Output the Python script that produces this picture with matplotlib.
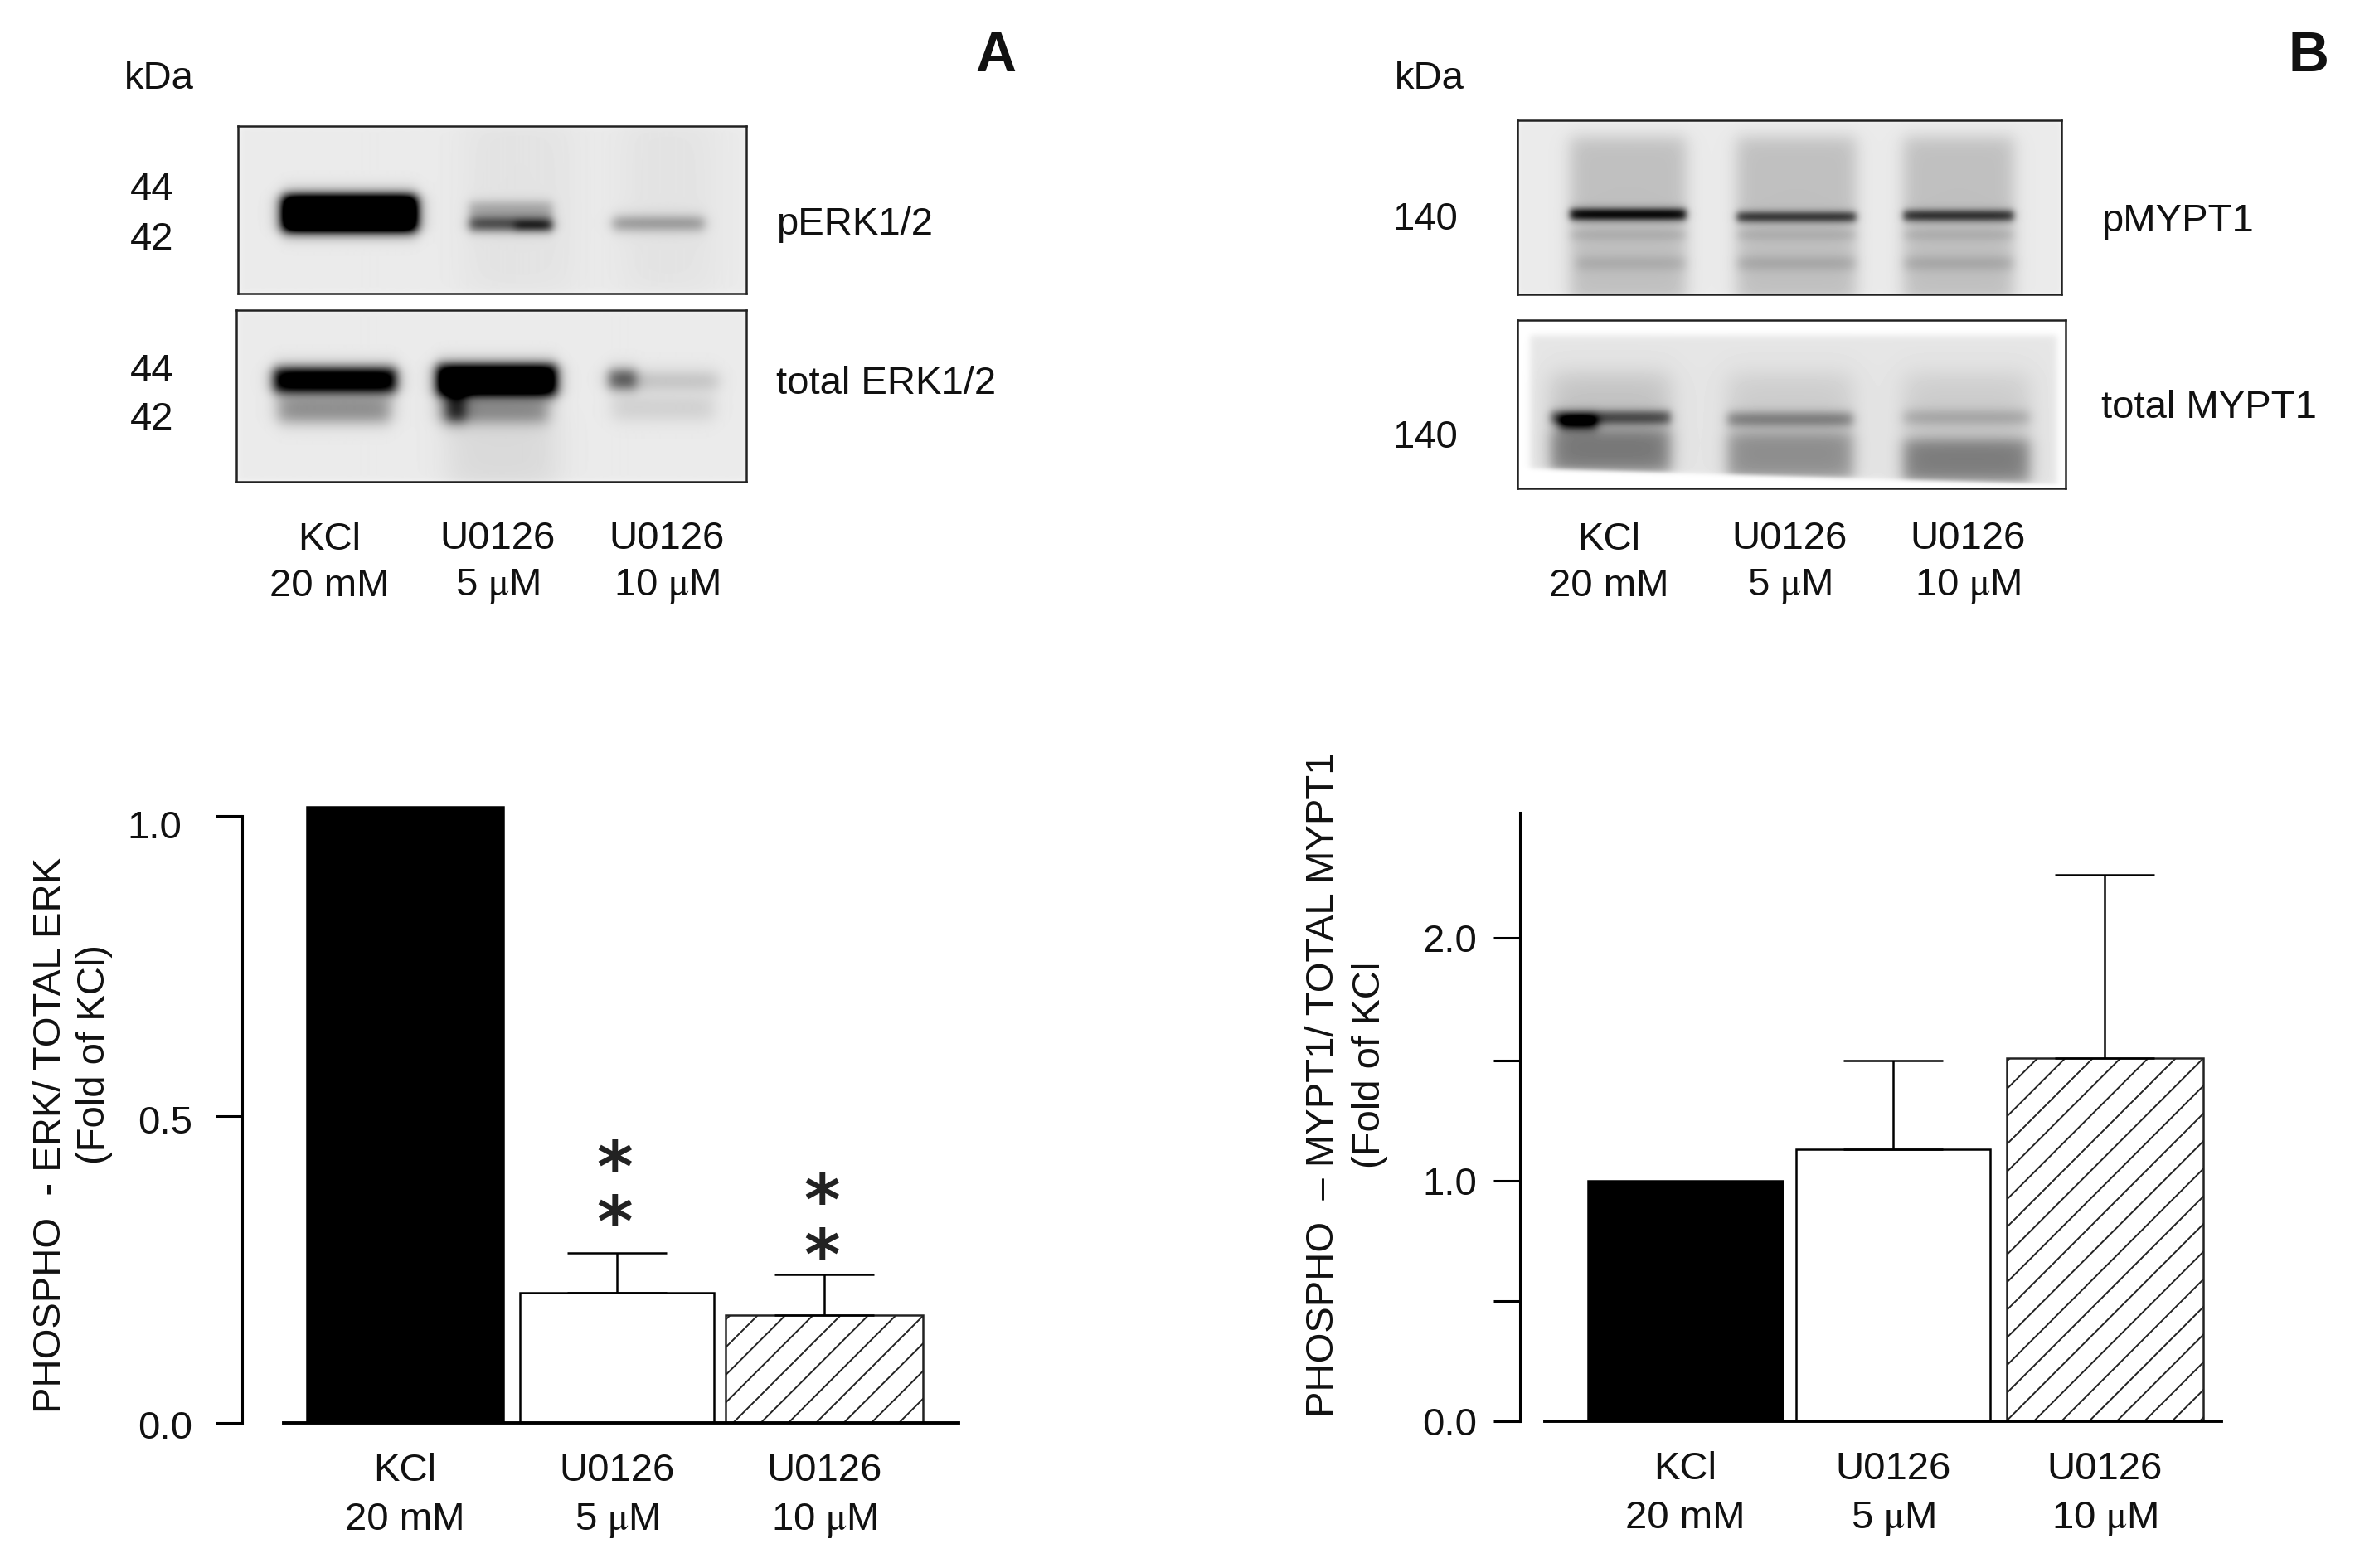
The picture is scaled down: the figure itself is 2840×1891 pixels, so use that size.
import matplotlib
matplotlib.use("Agg")
import matplotlib.pyplot as plt
from matplotlib.transforms import ScaledTranslation
import numpy as np

plt.rcParams['font.family'] = ['Liberation Sans', 'DejaVu Sans']
plt.rcParams['mathtext.fontset'] = 'stix'
plt.rcParams['mathtext.default'] = 'regular'
plt.rcParams['hatch.linewidth'] = 0.7

W, H = 2840, 1891
DPI = 200

conditions = ["KCl\n20 mM", "U0126\n5 $\\mathrm{\\mu}$M", "U0126\n10 $\\mathrm{\\mu}$M"]

# bar values
erk_values = [1.015, 0.215, 0.178]
erk_errors = [0.0, 0.065, 0.067]
mypt_values = [1.0, 1.13, 1.51]
mypt_errors = [0.0, 0.37, 0.76]

erk_ticks = [0.0, 0.505, 1.0]
erk_ticklabels = ["0.0", "0.5", "1.0"]
mypt_ticks = [0.0, 0.5, 1.0, 1.5, 2.01]
mypt_ticklabels = ["0.0", "", "1.0", "", "2.0"]

# blot patches: x0, x1, y0, y1, darkness, edge softness (reference pixels)
perk_bands = [
    (287, 900, 152, 354, 0.08, 4),
    (560, 690, 140, 354, 0.03, 25),
    (750, 860, 140, 354, 0.03, 25),
    (340, 502, 236, 278, 1.7, 9),
    (565, 665, 264, 277, 0.7, 7),
    (620, 665, 268, 276, 0.35, 6),
    (565, 665, 243, 266, 0.25, 7),
    (738, 848, 262, 276, 0.38, 8),
]
terk_bands = [
    (285, 900, 374, 581, 0.08, 4),
    (540, 670, 500, 590, 0.07, 22),
    (330, 477, 444, 472, 1.2, 9),
    (335, 470, 480, 508, 0.4, 11),
    (526, 670, 440, 476, 1.4, 9),
    (530, 660, 482, 508, 0.4, 11),
    (538, 560, 470, 508, 0.5, 9),
    (733, 765, 446, 468, 0.65, 9),
    (760, 865, 450, 468, 0.2, 11),
    (738, 860, 480, 505, 0.12, 12),
]
pmypt_bands = [
    (1830, 2486, 145, 355, 0.08, 3),
    (1893, 2033, 165, 365, 0.17, 12),
    (2094, 2238, 165, 365, 0.17, 12),
    (2295, 2428, 165, 365, 0.17, 12),
    (1893, 2033, 252, 264, 0.85, 5),
    (2094, 2238, 256, 266, 0.68, 5),
    (2295, 2428, 254, 265, 0.68, 5),
    (1893, 2033, 278, 288, 0.1, 6),
    (2094, 2238, 278, 288, 0.1, 6),
    (2295, 2428, 278, 288, 0.1, 6),
    (1900, 2033, 310, 324, 0.1, 7),
    (2094, 2238, 310, 324, 0.12, 7),
    (2295, 2428, 310, 324, 0.12, 7),
]
tmypt_bands = [
    (1845, 2480, 404, 600, 0.1, 5),
    (1870, 2014, 450, 570, 0.14, 18),
    (2083, 2234, 450, 578, 0.1, 18),
    (2295, 2447, 450, 582, 0.1, 18),
    (1870, 2014, 496, 510, 0.55, 6),
    (1880, 1925, 502, 516, 0.75, 7),
    (2083, 2234, 498, 512, 0.38, 7),
    (2295, 2447, 496, 510, 0.2, 8),
    (1870, 2014, 518, 570, 0.3, 10),
    (2083, 2234, 522, 578, 0.25, 10),
    (2295, 2447, 530, 582, 0.32, 10),
]


def axes_px(x0, y0, x1, y1):
    return fig.add_axes([x0 / W, 1 - y1 / H, (x1 - x0) / W, (y1 - y0) / H])


def text_px(x, y, s, size=17, ha='center', **kw):
    fig.text(x / W, 1 - y / H, s, fontsize=size, ha=ha, va='center', color='#111111', **kw)


def draw_blot(box, bands, slant=None):
    x0, x1, y0, y1 = box
    xx, yy = np.meshgrid(np.arange(x0, x1), np.arange(y0, y1))
    dens = np.zeros(xx.shape)
    for bx0, bx1, by0, by1, d, soft in bands:
        mx = 0.5 * (np.tanh((xx - bx0) / soft) - np.tanh((xx - bx1) / soft))
        my = 0.5 * (np.tanh((yy - by0) / soft) - np.tanh((yy - by1) / soft))
        dens += d * mx * my
    if slant is not None:
        line = slant[0] + (slant[1] - slant[0]) * (xx - x0) / (x1 - x0)
        dens *= 0.5 * (1 - np.tanh((yy - line) / 3))
    ax = axes_px(x0, y0, x1, y1)
    ax.imshow(1 - np.clip(dens, 0, 1), cmap='gray', vmin=0, vmax=1, aspect='auto',
              interpolation='bilinear')
    ax.set_xticks([])
    ax.set_yticks([])
    for sp in ax.spines.values():
        sp.set_linewidth(0.9)
        sp.set_color('#222222')


def draw_bars(ax, x, widths, values, errors):
    ax.bar(x[0], values[0], widths[0], color='black', edgecolor='black', linewidth=0.9)
    ax.bar(x[1], values[1], widths[1], color='white', edgecolor='black', linewidth=0.9)
    ax.bar(x[2], values[2], widths[2], color='white', edgecolor='#222222', linewidth=0.9,
           hatch='//')
    ax.errorbar(x[1:], values[1:], yerr=[[0, 0], errors[1:]], fmt='none', ecolor='black',
                elinewidth=0.9, capsize=21.5, capthick=0.9)
    ax.set_xticks(x)
    ax.set_xticklabels(conditions, fontsize=17, linespacing=1.43, color='#111111')
    ax.tick_params(axis='x', length=0, pad=13)
    ax.tick_params(axis='y', length=11.5, width=1.1, labelsize=17, labelcolor='#111111')
    for name in ['top', 'right']:
        ax.spines[name].set_visible(False)
    ax.spines['left'].set_linewidth(1.1)
    ax.spines['bottom'].set_linewidth(1.4)


def nudge_label(label, dx, dy):
    label.set_transform(label.get_transform() + ScaledTranslation(dx / DPI, -dy / DPI, fig.dpi_scale_trans))


fig = plt.figure(figsize=(W / DPI, H / DPI), dpi=DPI, facecolor='white')

draw_blot((287, 900, 152, 354), perk_bands)
draw_blot((285, 900, 374, 581), terk_bands)
draw_blot((1830, 2486, 145, 355), pmypt_bands)
draw_blot((1830, 2491, 386, 589), tmypt_bands, slant=(564, 584))

# panel letters and blot labels
text_px(1201, 68, "A", size=24.5, fontweight='bold')
text_px(2784, 68, "B", size=24.5, fontweight='bold')
text_px(192, 95, "kDa")
text_px(1724, 95, "kDa")
for yy, s in zip([229, 289, 448, 506], ["44", "42", "44", "42"]):
    text_px(183, yy, s)
for yy in [265, 528]:
    text_px(1719, yy, "140")
text_px(936, 271, "pERK1/2", ha='left')
text_px(936, 463, "total ERK1/2", ha='left')
text_px(2534, 267, "pMYPT1", ha='left')
text_px(2534, 492, "total MYPT1", ha='left')
for xx, s in zip([397, 600, 804], conditions):
    text_px(xx, 679, s, linespacing=1.36)
for xx, s in zip([1940, 2158, 2373], conditions):
    text_px(xx, 679, s, linespacing=1.36)

# panel A bars
ax_a = axes_px(292, 960, 1156, 1716)
ax_a.set_xlim(-0.778, 2.642)
ax_a.set_ylim(0, 1.0 * 756 / 732)
draw_bars(ax_a, [0, 1.011, 2.0], [0.94, 0.925, 0.94], erk_values, erk_errors)
ax_a.set_yticks(erk_ticks)
ax_a.set_yticklabels(erk_ticklabels)
ax_a.tick_params(axis='y', pad=10)
ax_a.spines['left'].set_bounds(0, 1.0)
ax_a.spines['bottom'].set_bounds(-0.58, 2.642)
for lab, dx, dy in zip(ax_a.get_yticklabels(), [0, 0, -13], [2, 4, 10]):
    nudge_label(lab, dx, dy)
for xx, yy in zip([1.0, 1.99], [0.37, 0.315]):
    ax_a.text(xx, yy, "*\n*", fontsize=30, family='DejaVu Sans', fontweight='bold', ha='center',
              va='center', linespacing=0.77, color='#222222')
text_px(61, 1369, "PHOSPHO  - ERK/ TOTAL ERK", rotation=90)
text_px(114, 1272, "(Fold of KCl)", rotation=90)

# panel B bars
ax_b = axes_px(1833, 980, 2679, 1714)
ax_b.set_xlim(-0.78, 2.66)
ax_b.set_ylim(0, 2.53)
draw_bars(ax_b, [0.03, 1.05, 2.088], [0.957, 0.95, 0.965], mypt_values, mypt_errors)
ax_b.set_yticks(mypt_ticks)
ax_b.set_yticklabels(mypt_ticklabels)
ax_b.tick_params(axis='y', pad=7)
ax_b.spines['bottom'].set_bounds(-0.66, 2.66)
text_px(1596, 1308, "PHOSPHO  \u2013 MYPT1/ TOTAL MYPT1", rotation=90)
text_px(1652, 1284, "(Fold of KCl", rotation=90)

fig.savefig("out.png", dpi=DPI, facecolor='white')
